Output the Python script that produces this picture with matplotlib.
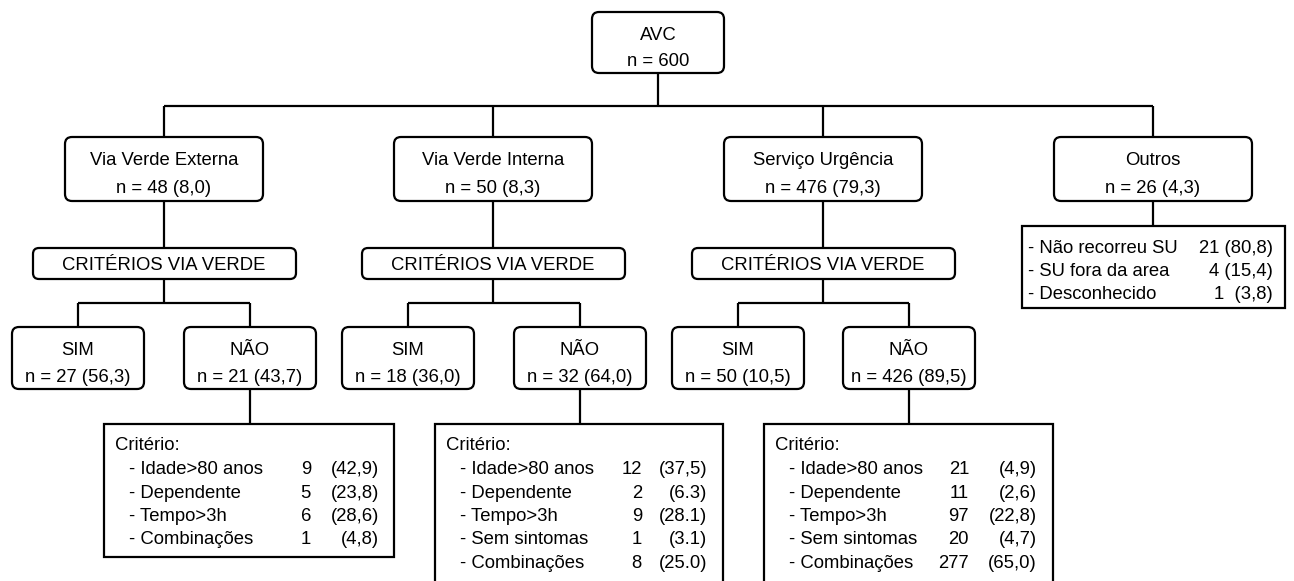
import matplotlib
matplotlib.use("Agg")
import matplotlib.pyplot as plt
from matplotlib.patches import FancyBboxPatch, Rectangle

plt.rcParams['font.family'] = ['Liberation Sans', 'DejaVu Sans']

# ---- data ----
root_label = "AVC"
root_n = "600"
groups = ["Via Verde Externa", "Via Verde Interna", "Serviço Urgência", "Outros"]
group_n = ["48", "50", "476", "26"]
group_pct = ["8,0", "8,3", "79,3", "4,3"]
criteria_title = "CRITÉRIOS VIA VERDE"
sim_n = ["27", "18", "50"]
sim_pct = ["56,3", "36,0", "10,5"]
nao_n = ["21", "32", "426"]
nao_pct = ["43,7", "64,0", "89,5"]

crit_labels_1 = ["- Idade>80 anos", "- Dependente", "- Tempo>3h", "- Combinações"]
crit_n_1 = ["9", "5", "6", "1"]
crit_pct_1 = ["(42,9)", "(23,8)", "(28,6)", "(4,8)"]
crit_labels_2 = ["- Idade>80 anos", "- Dependente", "- Tempo>3h", "- Sem sintomas", "- Combinações"]
crit_n_2 = ["12", "2", "9", "1", "8"]
crit_pct_2 = ["(37,5)", "(6.3)", "(28.1)", "(3.1)", "(25.0)"]
crit_labels_3 = ["- Idade>80 anos", "- Dependente", "- Tempo>3h", "- Sem sintomas", "- Combinações"]
crit_n_3 = ["21", "11", "97", "20", "277"]
crit_pct_3 = ["(4,9)", "(2,6)", "(22,8)", "(4,7)", "(65,0)"]
outros_labels = ["- Não recorreu SU", "- SU fora da area", "- Desconhecido"]
outros_text = ["21 (80,8)", "4 (15,4)", "1  (3,8)"]

W, H = 1294, 581
fig = plt.figure(figsize=(W / 100, H / 100), dpi=100)
ax = fig.add_axes([0, 0, 1, 1])
ax.set_xlim(0, W)
ax.set_ylim(H, 0)
ax.axis('off')

LW = 1.6
FS = 13.3
DY = 1.5


def rbox(x0, y0, x1, y1, r=7):
    p = FancyBboxPatch((x0 + r, y0 + r), (x1 - x0) - 2 * r, (y1 - y0) - 2 * r,
                       boxstyle=f"round,pad={r}", fc='white', ec='black', lw=LW, zorder=3)
    ax.add_patch(p)


def sbox(x0, y0, x1, y1):
    ax.add_patch(Rectangle((x0, y0), x1 - x0, y1 - y0, fc='white', ec='black', lw=LW, zorder=3))


def line(xs, ys):
    ax.plot(xs, ys, color='black', lw=LW, zorder=1, solid_capstyle='butt')


def txt(x, y, s, ha='center'):
    ax.text(x, y + DY, s, ha=ha, va='center', fontsize=FS, zorder=4)


# root
rbox(592, 12, 724, 73)
txt(658, 34, root_label)
txt(658, 60, f"n = {root_n}")
line([658, 658], [73, 106])

centers = [164, 493, 823, 1153]
line([centers[0], centers[-1]], [106, 106])

for i, (g, n, p) in enumerate(zip(groups, group_n, group_pct)):
    c = centers[i]
    line([c, c], [106, 137])
    rbox(c - 99, 137, c + 99, 201)
    txt(c, 159, g)
    txt(c, 187, f"n = {n} ({p})")

# criteria branches for first three groups
sim_c = [78, 408, 738]
nao_c = [250, 580, 909]
crit_boxes = [(104, 394, 557), (435, 723, 590), (764, 1053, 590)]
crit_data = [(crit_labels_1, crit_n_1, crit_pct_1, 311, 379),
             (crit_labels_2, crit_n_2, crit_pct_2, 642, 707),
             (crit_labels_3, crit_n_3, crit_pct_3, 969, 1037)]

for i in range(3):
    c = centers[i]
    line([c, c], [201, 248])
    rbox(c - 131, 248, c + 132, 279, r=6)
    txt(c, 264, criteria_title)
    line([c, c], [279, 303])
    line([sim_c[i], nao_c[i]], [303, 303])
    line([sim_c[i], sim_c[i]], [303, 327])
    line([nao_c[i], nao_c[i]], [303, 327])
    rbox(sim_c[i] - 66, 327, sim_c[i] + 66, 389)
    txt(sim_c[i], 349, "SIM")
    txt(sim_c[i], 376, f"n = {sim_n[i]} ({sim_pct[i]})")
    rbox(nao_c[i] - 66, 327, nao_c[i] + 66, 389)
    txt(nao_c[i], 349, "NÃO")
    txt(nao_c[i], 376, f"n = {nao_n[i]} ({nao_pct[i]})")
    line([nao_c[i], nao_c[i]], [389, 424])

    x0, x1, y1 = crit_boxes[i]
    sbox(x0, 424, x1, y1)
    labels, ns, pcts, nx, px = crit_data[i]
    txt(x0 + 11, 444, "Critério:", ha='left')
    for j, (lab, nn, pp) in enumerate(zip(labels, ns, pcts)):
        y = 468 + j * 23.5
        txt(x0 + 25, y, lab, ha='left')
        txt(nx, y, nn, ha='right')
        txt(px, y, pp, ha='right')

# Outros
c = centers[3]
line([c, c], [201, 226])
sbox(1022, 226, 1285, 308)
for j, (lab, t) in enumerate(zip(outros_labels, outros_text)):
    y = 247 + j * 23
    txt(1028, y, lab, ha='left')
    txt(1273, y, t, ha='right')

fig.savefig("out.png", dpi=100)
